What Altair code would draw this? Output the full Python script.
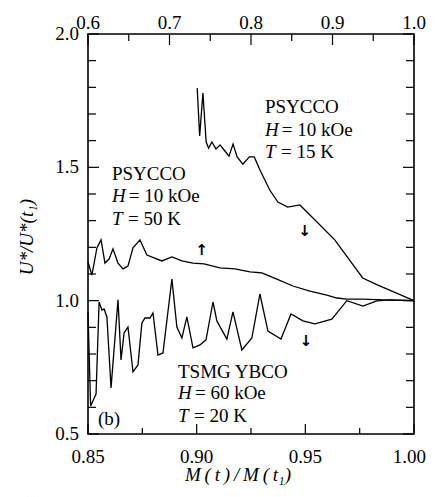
import altair as alt
import pandas as pd

# ---------------- data ----------------
# PSYCCO, H = 10 kOe, T = 15 K  (plotted against the TOP axis, 0.6 .. 1.0)
m15_x = [0.734, 0.737, 0.741, 0.745, 0.748, 0.752, 0.757, 0.762, 0.767, 0.773,
         0.778, 0.783, 0.790, 0.798, 0.804, 0.811, 0.823, 0.833, 0.845, 0.860,
         0.881, 0.903, 0.921, 0.937, 0.955, 1.000]
m15_y = [1.797, 1.618, 1.779, 1.595, 1.572, 1.595, 1.569, 1.584, 1.565, 1.542,
         1.587, 1.539, 1.512, 1.539, 1.539, 1.490, 1.415, 1.370, 1.351, 1.359,
         1.295, 1.227, 1.152, 1.085, 1.059, 1.000]

# PSYCCO, H = 10 kOe, T = 50 K  (bottom axis, 0.85 .. 1.00)
m50_x = [0.8500, 0.8518, 0.8541, 0.8560, 0.8578, 0.8597, 0.8615, 0.8638, 0.8661, 0.8684,
         0.8707, 0.8739, 0.8771, 0.8840, 0.8886, 0.8932, 0.8983, 0.9034, 0.9107, 0.9176,
         0.9245, 0.9300, 0.9369, 0.9443, 0.9521, 0.9599, 0.9645, 0.9691, 0.9765, 0.9857,
         1.0000]
m50_y = [1.145, 1.096, 1.198, 1.228, 1.141, 1.156, 1.194, 1.141, 1.119, 1.130,
         1.198, 1.228, 1.171, 1.149, 1.164, 1.149, 1.141, 1.138, 1.123, 1.119,
         1.108, 1.104, 1.081, 1.055, 1.036, 1.021, 1.010, 1.006, 1.006, 1.003,
         1.000]

# TSMG YBCO, H = 60 kOe, T = 20 K  (bottom axis)
ts_x = [0.8500, 0.8512, 0.8537, 0.8551, 0.8564, 0.8574, 0.8587, 0.8606, 0.8638, 0.8652,
        0.8666, 0.8684, 0.8707, 0.8730, 0.8748, 0.8762, 0.8785, 0.8799, 0.8822, 0.8845,
        0.8886, 0.8909, 0.8932, 0.8955, 0.8983, 0.9015, 0.9043, 0.9075, 0.9093, 0.9139,
        0.9167, 0.9208, 0.9254, 0.9291, 0.9328, 0.9388, 0.9434, 0.9489, 0.9544, 0.9622,
        0.9691, 0.9765, 0.9829, 0.9889, 1.0000]
ts_y = [0.958, 0.605, 0.650, 0.995, 0.965, 0.969, 0.939, 0.673, 1.003, 0.778,
        0.879, 0.901, 0.733, 0.759, 0.916, 0.935, 0.935, 0.954, 0.796, 0.804,
        1.081, 0.901, 0.860, 0.939, 0.823, 0.834, 0.853, 0.995, 0.924, 0.856,
        0.958, 0.815, 0.860, 1.025, 0.886, 0.856, 0.950, 0.924, 0.913, 0.931,
        1.000, 0.980, 0.999, 1.003, 1.000]

# axis labels / ticks
bottom_labels = [0.85, 0.90, 0.95, 1.00]
bottom_minor = [0.875, 0.925, 0.975]
top_labels = [0.6, 0.7, 0.8, 0.9, 1.0]
top_minor = [0.65, 0.75, 0.85, 0.95]
y_labels = [0.5, 1.0, 1.5, 2.0]
y_minor = [0.6, 0.7, 0.8, 0.9, 1.1, 1.2, 1.3, 1.4, 1.6, 1.7, 1.8, 1.9]

# annotations (data coordinates of the bottom axis)
ann_text = ["PSYCCO", "= 10 kOe", "= 15 K",
            "PSYCCO", "= 10 kOe", "= 50 K",
            "TSMG YBCO", "= 60 kOe", "= 20 K", "(b)"]
ann_x = [0.9314, 0.9392, 0.9388,
         0.8610, 0.8688, 0.8684,
         0.8914, 0.8992, 0.8988, 0.8546]
ann_y = [1.726, 1.640, 1.5575,
         1.475, 1.3925, 1.308,
         0.734, 0.654, 0.569, 0.556]
ital_text = ["H", "T", "H", "T", "H", "T"]
ital_x = [0.9314, 0.9314, 0.8610, 0.8610, 0.8914, 0.8914]
ital_y = [1.640, 1.5575, 1.3925, 1.308, 0.654, 0.569]
arrow_text = ["\u2191", "\u2193", "\u2193"]
arrow_x = [0.9024, 0.9498, 0.9503]
arrow_y = [1.19, 1.261, 0.849]

# ---------------- chart ----------------
W, H = 326, 400
FONT = "Liberation Serif"
FS = 19
LW = 1.3

xs = alt.Scale(domain=[0.85, 1.0], nice=False, zero=False)
xt = alt.Scale(domain=[0.6, 1.0], nice=False, zero=False)
ys = alt.Scale(domain=[0.5, 2.0], nice=False, zero=False)

df15 = pd.DataFrame({"x": m15_x, "y": m15_y})
df50 = pd.DataFrame({"x": m50_x, "y": m50_y})
dfts = pd.DataFrame({"x": ts_x, "y": ts_y})


def line(df, scale):
    return alt.Chart(df).mark_line(color="black", strokeWidth=LW).encode(
        x=alt.X("x:Q", scale=scale, axis=None),
        y=alt.Y("y:Q", scale=ys, axis=None),
    )


def yticks(vals, x0, x1):
    return alt.Chart(pd.DataFrame({"v": vals})).mark_rule(color="black", strokeWidth=1.2).encode(
        y=alt.Y("v:Q", scale=ys, axis=None), x=alt.value(x0), x2=alt.value(x1))


def xticks(vals, scale, y0, y1):
    return alt.Chart(pd.DataFrame({"v": vals})).mark_rule(color="black", strokeWidth=1.2).encode(
        x=alt.X("v:Q", scale=scale, axis=None), y=alt.value(y0), y2=alt.value(y1))


def xlabels(vals, fmt, scale, ypix, align="center", dx=0):
    d = pd.DataFrame({"v": vals, "t": [format(v, fmt) for v in vals]})
    return alt.Chart(d).mark_text(font=FONT, fontSize=FS, color="black",
                                  align=align, dx=dx, baseline="middle").encode(
        x=alt.X("v:Q", scale=scale, axis=None), y=alt.value(ypix), text="t:N")


def ylabels(vals, fmt, xpix):
    d = pd.DataFrame({"v": vals, "t": [format(v, fmt) for v in vals]})
    return alt.Chart(d).mark_text(font=FONT, fontSize=FS, color="black",
                                  align="right", baseline="middle").encode(
        y=alt.Y("v:Q", scale=ys, axis=None), x=alt.value(xpix), text="t:N")


ticks_bottom_group = [
    yticks(y_labels, 0, 11), yticks(y_minor, 0, 8),
    yticks(y_labels, W, W - 11), yticks(y_minor, W, W - 8),
    xticks(bottom_labels, xs, H, H - 10), xticks(bottom_minor, xs, H, H - 6),
    xlabels(bottom_labels[:-1], ".2f", xs, H + 23),
    xlabels(bottom_labels[-1:], ".2f", xs, H + 23, align="right", dx=12),
    ylabels(y_labels, ".1f", -9),
]
ticks_top_group = [
    xticks(top_labels, xt, 0, 11), xticks(top_minor, xt, 0, 7),
    xlabels(top_labels, ".1f", xt, -11),
]

ann = alt.Chart(pd.DataFrame({"x": ann_x, "y": ann_y, "t": ann_text})).mark_text(
    font=FONT, fontSize=FS, color="black", align="left", baseline="middle").encode(
    x=alt.X("x:Q", scale=xs, axis=None), y=alt.Y("y:Q", scale=ys, axis=None), text="t:N")
ital = alt.Chart(pd.DataFrame({"x": ital_x, "y": ital_y, "t": ital_text})).mark_text(
    font=FONT, fontSize=FS, fontStyle="italic", color="black", align="left", baseline="middle").encode(
    x=alt.X("x:Q", scale=xs, axis=None), y=alt.Y("y:Q", scale=ys, axis=None), text="t:N")
arrows = alt.Chart(pd.DataFrame({"x": arrow_x, "y": arrow_y, "t": arrow_text})).mark_text(
    font="DejaVu Sans", fontSize=15, fontWeight="bold", color="black",
    align="center", baseline="middle").encode(
    x=alt.X("x:Q", scale=xs, axis=None), y=alt.Y("y:Q", scale=ys, axis=None), text="t:N")

TS = "\u2009"
ytitle = alt.Chart(pd.DataFrame({"t": ["U*/U*(t\u2081)"]})).mark_text(
    font=FONT, fontSize=FS, fontStyle="italic", color="black", angle=270,
    align="center", baseline="middle").encode(
    text="t:N", x=alt.value(-61), y=alt.value(203))
xtitle = alt.Chart(pd.DataFrame({"t": [TS.join("M(t)/M(t") + "\u2081)"]})).mark_text(
    font=FONT, fontSize=FS, fontStyle="italic", color="black",
    align="center", baseline="middle").encode(
    text="t:N", x=alt.value(150), y=alt.value(441))
btag = alt.Chart(pd.DataFrame({"t": ["(b)"]})).mark_text(
    font=FONT, fontSize=FS, color="black", align="left", baseline="middle").encode(
    text="t:N", x=alt.value(-66), y=alt.value(470))

bottom_group = alt.layer(line(df50, xs), line(dfts, xs), *ticks_bottom_group,
                         ann, ital, arrows, ytitle, xtitle, btag)
top_group = alt.layer(line(df15, xt), *ticks_top_group)

chart = alt.layer(bottom_group, top_group).resolve_scale(x="independent").properties(
    width=W, height=H,
    autosize=alt.AutoSizeParams(type="none"),
    padding={"left": 80, "top": 26, "right": 13, "bottom": 70},
    background="white",
).configure_view(stroke="black", strokeWidth=1.6)

chart.save("out.html", embed_options={"renderer": "svg", "actions": False})
